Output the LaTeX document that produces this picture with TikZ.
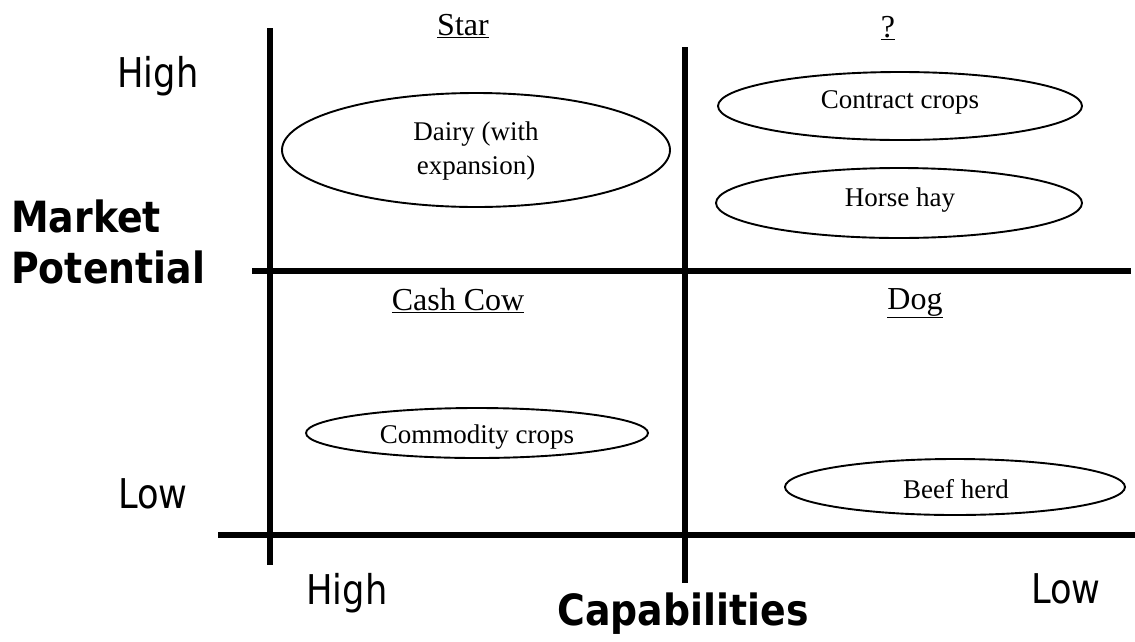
\documentclass[tikz,border=0pt]{standalone}
\usepackage{fontspec}
\setmainfont{Liberation Serif}
\newfontfamily\axfont{DejaVu Sans}[FakeStretch=0.86]
\newfontfamily\axbfont{DejaVu Sans Bold}[FakeStretch=0.88]
\usetikzlibrary{shapes.geometric}
\begin{document}
\begin{tikzpicture}[x=1pt,y=-1pt,
  axisline/.style={line width=6pt},
  blob/.style={draw,line width=1.9pt},
  axlabel/.style={font=\axfont\fontsize{41}{46}\selectfont,anchor=base,inner sep=0pt},
  axtitle/.style={font=\axbfont\fontsize{43}{51}\selectfont,inner sep=0pt},
  quad/.style={font=\fontsize{32}{36}\selectfont},
  item/.style={font=\fontsize{27}{33}\selectfont,align=center}]
\useasboundingbox (0,0) rectangle (1135,641);
% axes
\coordinate (lvT) at (270,28);
\coordinate (lvB) at (270,565);
\coordinate (mvT) at (685,47);
\coordinate (mvB) at (685,583);
\coordinate (mhL) at (252,271);
\coordinate (mhR) at (1131,271);
\coordinate (bhL) at (218,535);
\coordinate (bhR) at (1135,535);
\draw[axisline] (lvT) -- (lvB);
\draw[axisline] (mvT) -- (mvB);
\draw[axisline] (mhL) -- (mhR);
\draw[axisline] (bhL) -- (bhR);
% axis labels
\node[axlabel] (hiY) at (158,87) {High};
\node[axlabel] (loY) at (153,508) {Low};
\node[axlabel] (hiX) at (347,604) {High};
\node[axlabel] (loX) at (1066,603) {Low};
\node[axtitle,align=left,anchor=base west] (mp) at (11,283) {Market\\Potential};
\node[axtitle,anchor=base] (cap) at (683,625) {Capabilities};
% quadrant titles
\node[quad] (star) at (463,26) {\underline{Star}};
\node[quad] (qm) at (888,28) {\underline{?}};
\node[quad] (cow) at (458,301) {\underline{Cash Cow}};
\node[quad] (dog) at (915,303) {\underline{Dog}};
% ellipses
\node[blob,ellipse,minimum width=388pt,minimum height=114pt] (dairy) at (476,150) {};
\node[item] (dairyT) at (476,151) {Dairy (with\\expansion)};
\node[blob,ellipse,minimum width=364pt,minimum height=68pt] (contract) at (900,106) {};
\node[item] (contractT) at (900,102) {Contract crops};
\node[blob,ellipse,minimum width=366pt,minimum height=70pt] (horse) at (899,203) {};
\node[item] (horseT) at (900,200) {Horse hay};
\node[blob,ellipse,minimum width=342pt,minimum height=50pt] (comm) at (477,433) {};
\node[item] (commT) at (477,437) {Commodity crops};
\node[blob,ellipse,minimum width=340pt,minimum height=56pt] (beef) at (955,487) {};
\node[item] (beefT) at (956,489) {Beef herd};
\end{tikzpicture}
\end{document}
